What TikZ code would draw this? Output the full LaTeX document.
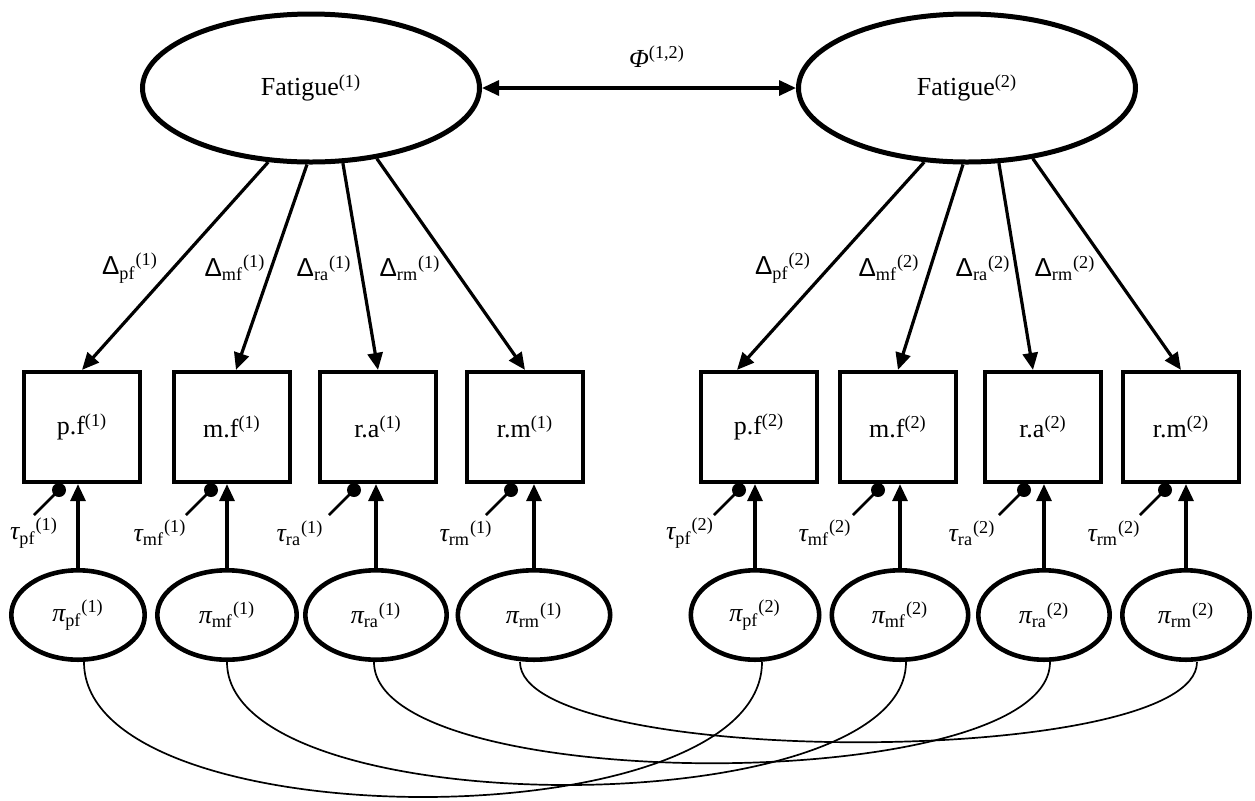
\documentclass[tikz,border=0pt]{standalone}
\usepackage{fontspec}
\setmainfont{Liberation Serif}
\newfontfamily\sansf{Liberation Sans}
\usetikzlibrary{arrows.meta,shapes.geometric}
\newcommand\lbl[3]{#1\textsubscript{#2}\textsuperscript{(#3)}}
\begin{document}
\begin{tikzpicture}[x=0.5pt,y=-0.5pt,
  every node/.style={font=\fontsize{13pt}{15pt}\selectfont},
  bigell/.style={draw,ellipse,line width=2.5pt,minimum width=168.5pt,minimum height=74pt,inner sep=0pt},
  smell/.style={draw,ellipse,line width=2.3pt,minimum height=44.7pt,inner sep=0pt},
  obsbox/.style={draw,rectangle,line width=2.1pt,minimum width=58pt,minimum height=55pt,inner sep=0pt},
  arr/.style={line width=1.6pt,-{Triangle[length=8.5pt,width=7.5pt]}},
  darr/.style={line width=1.6pt,{Triangle[length=8.5pt,width=7.5pt]}-{Triangle[length=8.5pt,width=7.5pt]}},
  dotn/.style={circle,fill,inner sep=0pt,minimum size=7pt},
  tline/.style={line width=1.3pt},
  cov/.style={line width=0.85pt},
  lab/.style={inner sep=0pt}
]
\fill[white] (0,0) rectangle (1255,800);
\useasboundingbox (0,0) rectangle (1255,800);

% latent factors
\node[bigell] (F1) at (311,88) {Fatigue\textsuperscript{(1)}};
\node[bigell] (F2) at (967,88) {Fatigue\textsuperscript{(2)}};
\draw[darr] (F1.east) -- (F2.west);
\node[lab] (phi) at (657,57) {{\itshape Φ}\textsuperscript{(1,2)}};

% observed boxes
\node[obsbox] (bpf1) at (82,427) {p.f\textsuperscript{(1)}};
\node[obsbox] (bmf1) at (232,427) {m.f\textsuperscript{(1)}};
\node[obsbox] (bra1) at (378,427) {r.a\textsuperscript{(1)}};
\node[obsbox] (brm1) at (525,427) {r.m\textsuperscript{(1)}};
\node[obsbox] (bpf2) at (759,427) {p.f\textsuperscript{(2)}};
\node[obsbox] (bmf2) at (898,427) {m.f\textsuperscript{(2)}};
\node[obsbox] (bra2) at (1043,427) {r.a\textsuperscript{(2)}};
\node[obsbox] (brm2) at (1181,427) {r.m\textsuperscript{(2)}};

% loadings
\draw[arr] (F1.240) -- (bpf1.north);
\draw[arr] (F1.267) -- ([xshift=2pt]bmf1.north);
\draw[arr] (F1.293) -- (bra1.north);
\draw[arr] (F1.313) -- (brm1.north);
\draw[arr] (F2.240) -- ([xshift=-11pt]bpf2.north);
\draw[arr] (F2.267) -- (bmf2.north);
\draw[arr] (F2.293) -- ([xshift=-5pt]bra2.north);
\draw[arr] (F2.313) -- (brm2.north);

\node[lab] (lpf1) at (130,268) {\lbl{{\sansf Δ}}{pf}{1}};
\node[lab] (lmf1) at (235,268) {\lbl{{\sansf Δ}}{mf}{1}};
\node[lab] (lra1) at (324,268) {\lbl{{\sansf Δ}}{ra}{1}};
\node[lab] (lrm1) at (410,268) {\lbl{{\sansf Δ}}{rm}{1}};
\node[lab] (lpf2) at (783,268) {\lbl{{\sansf Δ}}{pf}{2}};
\node[lab] (lmf2) at (889,268) {\lbl{{\sansf Δ}}{mf}{2}};
\node[lab] (lra2) at (983,268) {\lbl{{\sansf Δ}}{ra}{2}};
\node[lab] (lrm2) at (1065,268) {\lbl{{\sansf Δ}}{rm}{2}};

% unique factors
\node[smell,minimum width=66.7pt] (ppf1) at (78,615) {\lbl{{\itshape π}}{pf}{1}};
\node[smell,minimum width=69.7pt] (pmf1) at (227,615) {\lbl{{\itshape π}}{mf}{1}};
\node[smell,minimum width=70.7pt] (pra1) at (376,615) {\lbl{{\itshape π}}{ra}{1}};
\node[smell,minimum width=76.2pt] (prm1) at (534,615) {\lbl{{\itshape π}}{rm}{1}};
\node[smell,minimum width=64.2pt] (ppf2) at (755,615) {\lbl{{\itshape π}}{pf}{2}};
\node[smell,minimum width=68.2pt] (pmf2) at (900,615) {\lbl{{\itshape π}}{mf}{2}};
\node[smell,minimum width=65.7pt] (pra2) at (1044,615) {\lbl{{\itshape π}}{ra}{2}};
\node[smell,minimum width=63.7pt] (prm2) at (1186,615) {\lbl{{\itshape π}}{rm}{2}};

\foreach \v in {pf1,mf1,ra1,rm1,pf2,mf2,ra2,rm2}{
  \draw[arr] (p\v.north) -- (p\v.north |- b\v.south);
}

% intercepts
\node[dotn] (dpf1) at (59,490) {};
\node[dotn] (dmf1) at (211,490) {};
\node[dotn] (dra1) at (354,490) {};
\node[dotn] (drm1) at (511,490) {};
\node[dotn] (dpf2) at (739,490) {};
\node[dotn] (dmf2) at (878,490) {};
\node[dotn] (dra2) at (1024,490) {};
\node[dotn] (drm2) at (1165,490) {};
\foreach \v in {pf1,mf1,ra1,rm1,pf2,mf2,ra2,rm2}{
  \coordinate (e\v) at ([xshift=-12.5pt,yshift=-12.5pt]d\v.center);
  \draw[tline] (e\v) -- (d\v.center);
}
\node[lab] (tpf1) at (34,533) {\lbl{{\itshape τ}}{pf}{1}};
\node[lab] (tmf1) at (160,533) {\lbl{{\itshape τ}}{mf}{1}};
\node[lab] (tra1) at (300,533) {\lbl{{\itshape τ}}{ra}{1}};
\node[lab] (trm1) at (466,533) {\lbl{{\itshape τ}}{rm}{1}};
\node[lab] (tpf2) at (690,533) {\lbl{{\itshape τ}}{pf}{2}};
\node[lab] (tmf2) at (825,533) {\lbl{{\itshape τ}}{mf}{2}};
\node[lab] (tra2) at (972,533) {\lbl{{\itshape τ}}{ra}{2}};
\node[lab] (trm2) at (1114,533) {\lbl{{\itshape τ}}{rm}{2}};

% covariances between unique factors
\draw[cov] ([xshift=3pt]ppf1.south) .. controls +(0,180) and +(0,180) .. ([xshift=3.5pt]ppf2.south);
\draw[cov] (pmf1.south) .. controls +(0,164) and +(0,164) .. ([xshift=3pt]pmf2.south);
\draw[cov] ([xshift=-1pt]pra1.south) .. controls +(0,135) and +(0,135) .. ([xshift=3pt]pra2.south);
\draw[cov] ([xshift=-7pt]prm1.south) .. controls +(0,107) and +(0,107) .. ([xshift=5.5pt]prm2.south);
\end{tikzpicture}
\end{document}
